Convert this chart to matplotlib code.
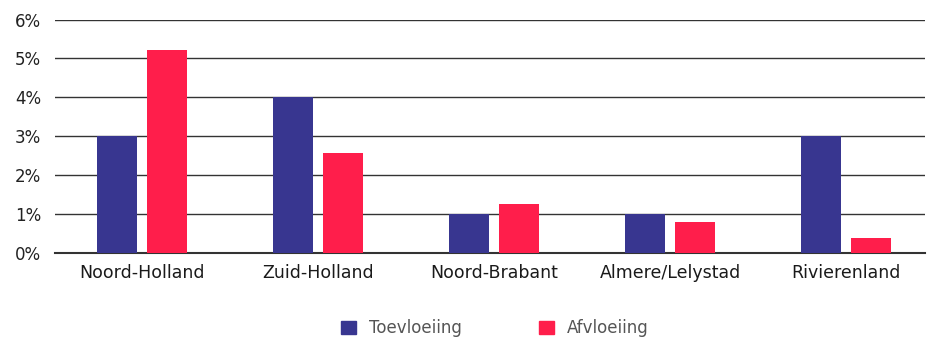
import matplotlib
matplotlib.use("Agg")
import matplotlib.pyplot as plt
import numpy as np
from matplotlib.patches import Patch

categories = ["Noord-Holland", "Zuid-Holland", "Noord-Brabant", "Almere/Lelystad", "Rivierenland"]
toevloeiing = [3.0, 4.0, 1.0, 1.0, 3.0]
afvloeiing = [5.22, 2.56, 1.25, 0.78, 0.37]
yticks = [0, 1, 2, 3, 4, 5, 6]
ytick_labels = ["0%", "1%", "2%", "3%", "4%", "5%", "6%"]
series_names = ["Toevloeiing", "Afvloeiing"]

blue = "#383690"
red = "#FF1E4B"

plt.rcParams['font.family'] = ['DejaVu Sans']

fig = plt.figure(figsize=(9.28, 3.37), dpi=100)
ax = fig.add_axes([0.0593, 0.2507, 0.9375, 0.6913])

x = np.arange(len(categories))
w = 0.222
off = 0.142
ax.bar(x - off, toevloeiing, width=w, color=blue, zorder=3)
ax.bar(x + off, afvloeiing, width=w, color=red, zorder=3)

ax.set_xlim(-0.494, 4.449)
ax.set_ylim(0, 6)
ax.set_yticks(yticks)
ax.set_yticklabels(ytick_labels, fontsize=12, color="#222222")
ax.set_xticks(x)
ax.set_xticklabels(categories, fontsize=12.5, color="#1a1a1a")
ax.tick_params(axis='both', length=0)
ax.tick_params(axis='y', pad=10)
ax.tick_params(axis='x', pad=8)
ax.yaxis.grid(True, color="#333333", linewidth=1.0, zorder=0)
for s in ["left", "right", "top"]:
    ax.spines[s].set_visible(False)
ax.spines["bottom"].set_color("#333333")
ax.spines["bottom"].set_linewidth(1.5)

handles = [Patch(color=blue), Patch(color=red)]
fig.legend(handles, series_names, loc="center", bbox_to_anchor=(0.533, 0.026),
           ncol=2, frameon=False, fontsize=12, handlelength=0.9, handleheight=0.9,
           columnspacing=4.6, handletextpad=0.78, labelcolor="#555555",
           borderpad=0, borderaxespad=0)

fig.savefig("out.png", dpi=100)
